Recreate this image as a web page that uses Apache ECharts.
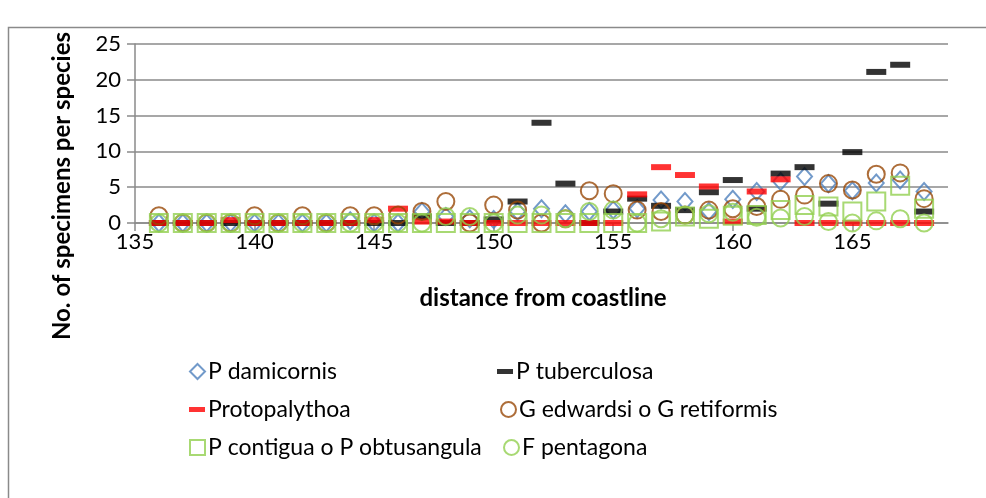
<!DOCTYPE html>
<html>
<head>
<meta charset="utf-8">
<script src="https://cdn.jsdelivr.net/npm/echarts@6.0.0/dist/echarts.min.js"></script>
<style>
html,body{margin:0;padding:0;background:#fff;}
#chart{width:986px;height:498px;}
</style>
</head>
<body>
<div id="chart"></div>
<script>
// distance from coastline (x)
const distances = [136,137,138,139,140,141,142,143,144,145,146,147,148,149,150,151,152,153,154,155,156,157,158,159,160,161,162,163,164,165,166,167,168];
const xTicks = [135,140,145,150,155,160,165];
const yTicks = [0,5,10,15,20,25];

const pDamicornis   = [0,0,0,0,0,0,0,0,0.3,0,0,1.6,0.9,0.6,0.5,1.6,2.0,1.3,1.6,1.8,2.0,3.2,3.0,1.6,3.3,4.4,5.8,6.5,5.5,4.5,5.6,6.0,4.4];
const pTuberculosa  = [0,0,0,0,0,0,0,0,0,0,0,0.9,0,0,0.5,3.0,14.0,5.5,0,1.6,3.4,2.4,1.8,4.3,6.0,2.0,6.9,7.8,2.7,9.9,21.1,22.1,1.6];
const protopalythoa = [0,0,0,0.4,0,0,0,0,0,0.4,2.0,0.2,0.2,0,0,0,0,0,0,0,4.0,7.8,6.7,5.1,0.2,4.4,6.1,0,0,0,0,0,0];
const gEdwardsi     = [1,0,0,0,1,0,1,0,1,1,1.1,1.6,3.0,0,2.5,1.8,0,0.6,4.5,4.1,1.8,1.6,1.1,1.8,2.0,2.3,3.3,3.9,5.5,4.6,6.8,7.0,3.4];
const pContigua     = [0,0,0,0,0,0,0,0,0,0,0,0,0,0,0,0,0,0,0,0,0,0.2,0.9,0.6,1.0,1.1,1.8,2.5,2.3,1.6,3.0,5.2,2.0];
const fPentagona    = [0,0,0,0,0,0,0,0,0,0,0,0,0.9,0.9,0,1.1,1.1,0.6,1.6,1.8,0,0.6,1.1,1.3,1.5,0.8,0.7,0.9,0.2,0,0.3,0.6,0];

const FONT = 'Lato';
const pair = arr => distances.map((d,i)=>[d,arr[i]]);

const hollow = (c)=>({color:'rgba(255,255,255,0)', borderColor:c, borderWidth:2});
const seriesDefs = [
  {name:'P damicornis', data:pair(pDamicornis), symbol:'diamond', symbolSize:[15,17], itemStyle:hollow('#4F81BD')},
  {name:'P tuberculosa', data:pair(pTuberculosa), symbol:'rect', symbolSize:[20,6], itemStyle:{color:'#000000'}},
  {name:'Protopalythoa', data:pair(protopalythoa), symbol:'rect', symbolSize:[20,6], itemStyle:{color:'#FF0000'}},
  {name:'G edwardsi o G retiformis', data:pair(gEdwardsi), symbol:'circle', symbolSize:17, itemStyle:hollow('#984807')},
  {name:'P contigua o P obtusangula', data:pair(pContigua), symbol:'rect', symbolSize:18, itemStyle:hollow('#92D050')},
  {name:'F pentagona', data:pair(fPentagona), symbol:'circle', symbolSize:17, itemStyle:hollow('#92D050')}
];

const legendPos = [
  {name:'P damicornis', left:189, top:360, w:15, h:15, icon:'diamond'},
  {name:'P tuberculosa', left:497, top:360, w:16, h:5, icon:'rect'},
  {name:'Protopalythoa', left:189, top:398, w:16, h:5, icon:'rect'},
  {name:'G edwardsi o G retiformis', left:500, top:398, w:15, h:15, icon:'circle'},
  {name:'P contigua o P obtusangula', left:189, top:436, w:15, h:15, icon:'rect'},
  {name:'F pentagona', left:503, top:436, w:15, h:15, icon:'circle'}
];

const chart = echarts.init(document.getElementById('chart'), null, {renderer:'canvas'});
chart.setOption({
  animation:false,
  backgroundColor:'#fff',
  textStyle:{fontFamily:FONT},
  grid:{left:135, right:38, top:44, bottom:275, containLabel:false},
  xAxis:{
    type:'value', min:135, max:169, interval:5,
    axisLine:{show:true, onZero:false, lineStyle:{color:'#8a8a8a', width:1.5}},
    axisTick:{show:true, length:8, customValues:xTicks, lineStyle:{color:'#8a8a8a', width:1.5}},
    axisLabel:{customValues:xTicks, color:'#000', fontSize:22, fontFamily:FONT, margin:8},
    splitLine:{show:false}
  },
  yAxis:{
    type:'value', min:0, max:25, interval:5,
    axisLine:{show:true, lineStyle:{color:'#8a8a8a', width:1.5}},
    axisTick:{show:true, length:8, lineStyle:{color:'#8a8a8a', width:1.5}},
    axisLabel:{color:'#000', fontSize:22, fontFamily:FONT, margin:14},
    splitLine:{show:true, lineStyle:{color:'#8a8a8a', width:1.5}}
  },
  legend: legendPos.map(l=>({
    data:[{name:l.name, icon:l.icon}], left:l.left, top:l.top, itemWidth:l.w, itemHeight:l.h,
    itemGap:4, padding:0, textStyle:{fontSize:23, fontFamily:FONT, color:'#000', padding:[0,0,0,-2]},
    selectedMode:false
  })),
  series: seriesDefs.map(s=>Object.assign({type:'scatter', clip:false, emphasis:{disabled:true}}, s)),
  graphic:[
    {type:'rect', shape:{x:8.5, y:27.5, width:1000, height:500}, style:{fill:null, stroke:'#8a8a8a', lineWidth:1.5}, silent:true},
    {type:'text', x:543, y:298, style:{text:'distance from coastline', font:'bold 24px Lato', fill:'#000', align:'center', verticalAlign:'middle'}},
    {type:'text', x:62, y:186, rotation:Math.PI/2, style:{text:'No. of specimens per species', font:'bold 24px Lato', fill:'#000', align:'center', verticalAlign:'middle'}}
  ]
});
</script>
</body>
</html>
